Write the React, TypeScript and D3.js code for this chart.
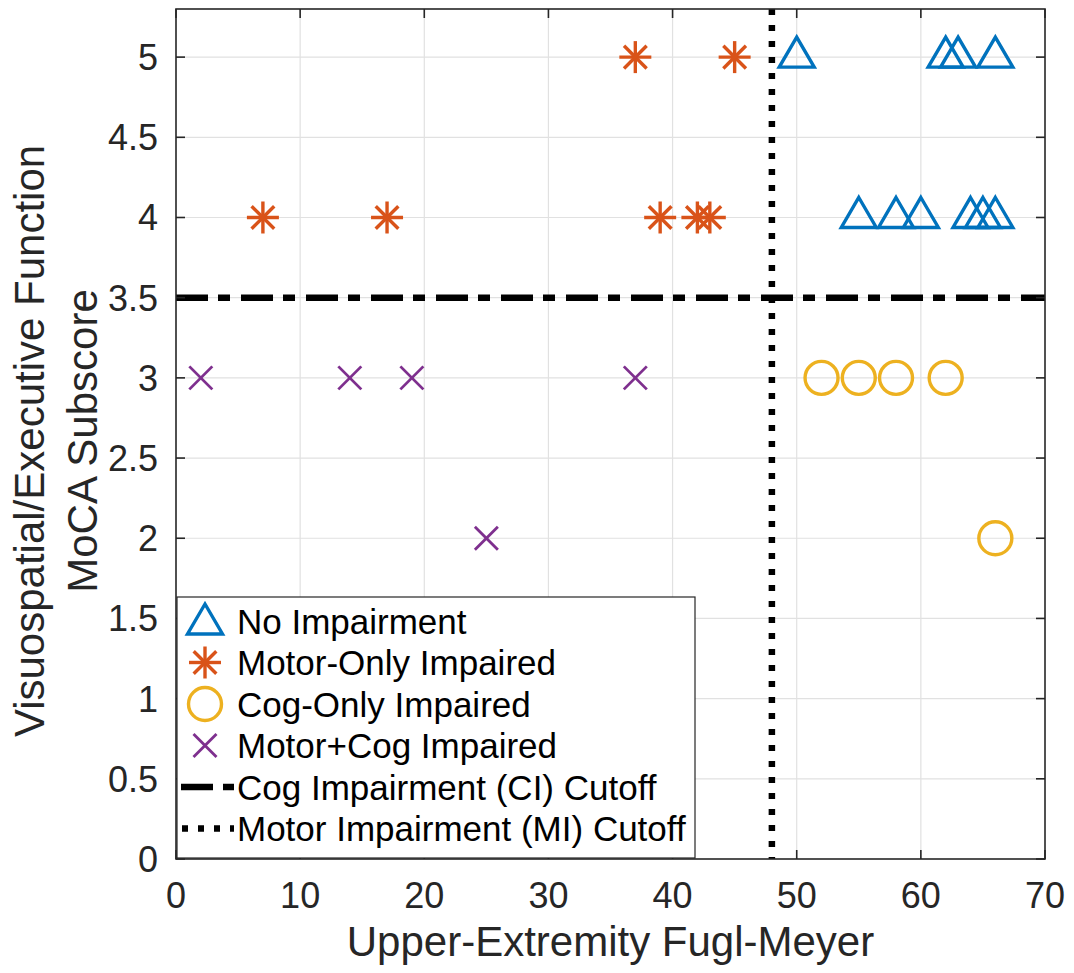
import React from 'react'
import * as d3 from 'd3'

// groups
const noImpX = [50, 62, 63, 66, 55, 58, 60, 64, 65, 66]
const noImpY = [5, 5, 5, 5, 4, 4, 4, 4, 4, 4]
const motorOnlyX = [37, 45, 7, 17, 39, 42, 43]
const motorOnlyY = [5, 5, 4, 4, 4, 4, 4]
const cogOnlyX = [52, 55, 58, 62, 66]
const cogOnlyY = [3, 3, 3, 3, 2]
const bothX = [2, 14, 19, 37, 25]
const bothY = [3, 3, 3, 3, 2]

const ciCutoff = 3.5
const miCutoff = 48

const xTicks = [0, 10, 20, 30, 40, 50, 60, 70]
const yTicks = [0, 0.5, 1, 1.5, 2, 2.5, 3, 3.5, 4, 4.5, 5]

const legendLabels = [
  'No Impairment',
  'Motor-Only Impaired',
  'Cog-Only Impaired',
  'Motor+Cog Impaired',
  'Cog Impairment (CI) Cutoff',
  'Motor Impairment (MI) Cutoff'
]

const BLUE = '#0072BD'
const ORANGE = '#D95319'
const YELLOW = '#EDB120'
const PURPLE = '#7E2F8E'
const AXC = '#262626'
const FONT = '"Liberation Sans", Arial, Helvetica, sans-serif'

const W = 1074
const H = 973
const left = 176, right = 1045, top = 9, bottom = 859

const Triangle = ({cx, cy}) => (
  <path
    d={`M${cx},${cy - 20} L${cx + 17.5},${cy + 10} L${cx - 17.5},${cy + 10} Z`}
    fill="none" stroke={BLUE} strokeWidth={3.4} strokeLinejoin="miter" />
)
const Star = ({cx, cy}) => {
  const r = 16
  const d = r * Math.cos(Math.PI / 4)
  return (
    <g stroke={ORANGE} strokeWidth={3.4}>
      <line x1={cx - r} y1={cy} x2={cx + r} y2={cy} />
      <line x1={cx} y1={cy - r} x2={cx} y2={cy + r} />
      <line x1={cx - d} y1={cy - d} x2={cx + d} y2={cy + d} />
      <line x1={cx - d} y1={cy + d} x2={cx + d} y2={cy - d} />
    </g>
  )
}
const Ring = ({cx, cy}) => (
  <circle cx={cx} cy={cy} r={16.5} fill="none" stroke={YELLOW} strokeWidth={3.4} />
)
const Cross = ({cx, cy}) => {
  const r = 11.5
  return (
    <g stroke={PURPLE} strokeWidth={2.8}>
      <line x1={cx - r} y1={cy - r} x2={cx + r} y2={cy + r} />
      <line x1={cx - r} y1={cy + r} x2={cx + r} y2={cy - r} />
    </g>
  )
}

export default function App() {
  const x = d3.scaleLinear().domain([0, 70]).range([left, right])
  const y = d3.scaleLinear().domain([0, 5.3]).range([bottom, top])

  const dashDot = '32 10 12 11'
  const dotted = '6 10'

  const legX = 177, legY = 597, legW = 518, legH = 261
  const rowH = 41.5

  return (
    <svg width={W} height={H} style={{position: 'absolute', left: 0, top: 0}} fontFamily={FONT}>
      <rect x={0} y={0} width={W} height={H} fill="#fff" />
      {/* grid */}
      <g stroke="#e1e1e1" strokeWidth={1.2}>
        {xTicks.slice(1, -1).map(t => (
          <line key={'gx' + t} x1={x(t)} x2={x(t)} y1={top} y2={bottom} />
        ))}
        {yTicks.slice(1).map(t => (
          <line key={'gy' + t} x1={left} x2={right} y1={y(t)} y2={y(t)} />
        ))}
      </g>

      {/* points */}
      {noImpX.map((v, i) => <Triangle key={'t' + i} cx={x(v)} cy={y(noImpY[i])} />)}
      {motorOnlyX.map((v, i) => <Star key={'s' + i} cx={x(v)} cy={y(motorOnlyY[i])} />)}
      {cogOnlyX.map((v, i) => <Ring key={'c' + i} cx={x(v)} cy={y(cogOnlyY[i])} />)}
      {bothX.map((v, i) => <Cross key={'x' + i} cx={x(v)} cy={y(bothY[i])} />)}

      {/* cutoffs */}
      <line x1={left} x2={right} y1={y(ciCutoff)} y2={y(ciCutoff)}
        stroke="#000" strokeWidth={6.5} strokeDasharray={dashDot} />
      <line x1={x(miCutoff)} x2={x(miCutoff)} y1={top} y2={bottom}
        stroke="#000" strokeWidth={6.5} strokeDasharray={dotted} />

      {/* axes box + ticks */}
      <rect x={left} y={top} width={right - left} height={bottom - top}
        fill="none" stroke={AXC} strokeWidth={1.6} />
      <g stroke={AXC} strokeWidth={1.6}>
        {xTicks.map(t => (
          <g key={'xt' + t}>
            <line x1={x(t)} x2={x(t)} y1={bottom} y2={bottom - 9} />
            <line x1={x(t)} x2={x(t)} y1={top} y2={top + 9} />
          </g>
        ))}
        {yTicks.map(t => (
          <g key={'yt' + t}>
            <line x1={left} x2={left + 9} y1={y(t)} y2={y(t)} />
            <line x1={right} x2={right - 9} y1={y(t)} y2={y(t)} />
          </g>
        ))}
      </g>
      <g fill={AXC} fontSize={36}>
        {xTicks.map(t => (
          <text key={'xl' + t} x={x(t)} y={908} textAnchor="middle">{t}</text>
        ))}
        {yTicks.map(t => (
          <text key={'yl' + t} x={left - 18} y={y(t) + 13} textAnchor="end">{t}</text>
        ))}
      </g>

      {/* axis labels */}
      <text x={(left + right) / 2} y={956} textAnchor="middle" fontSize={42} fill={AXC}>
        Upper-Extremity Fugl-Meyer
      </text>
      <g transform={`translate(0,441) rotate(-90)`} fill={AXC} fontSize={42}>
        <text x={0} y={44} textAnchor="middle">Visuospatial/Executive Function</text>
        <text x={0} y={97} textAnchor="middle">MoCA Subscore</text>
      </g>

      {/* legend */}
      <g>
        <rect x={legX} y={legY} width={legW} height={legH} fill="#fff" stroke={AXC} strokeWidth={1.2} />
        {legendLabels.map((lab, i) => {
          const cy = legY + 24 + i * rowH
          const mx = legX + 28
          let mark = null
          if (i === 0) mark = <Triangle cx={mx} cy={cy + 3} />
          if (i === 1) mark = <Star cx={mx} cy={cy} />
          if (i === 2) mark = <Ring cx={mx} cy={cy} />
          if (i === 3) mark = <Cross cx={mx} cy={cy} />
          if (i === 4) mark = <line x1={legX + 4} x2={legX + 57} y1={cy} y2={cy}
            stroke="#000" strokeWidth={6.5} strokeDasharray={dashDot} />
          if (i === 5) mark = <line x1={legX + 5} x2={legX + 57} y1={cy} y2={cy}
            stroke="#000" strokeWidth={6.5} strokeDasharray={dotted} />
          return (
            <g key={'lg' + i}>
              {mark}
              <text x={legX + 60} y={cy + 12.5} fontSize={35} fill="#000">{lab}</text>
            </g>
          )
        })}
      </g>
    </svg>
  )
}
